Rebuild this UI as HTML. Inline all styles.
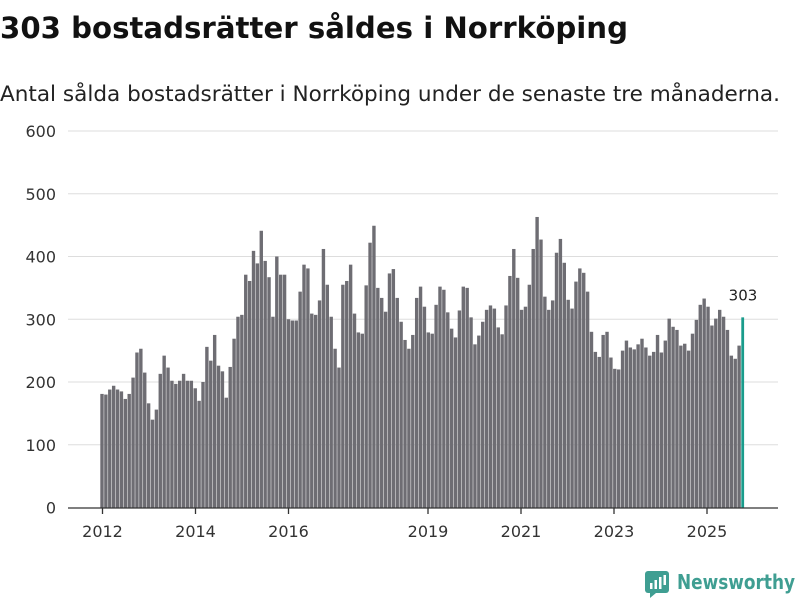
<!DOCTYPE html>
<html><head><meta charset="utf-8"><style>
body{margin:0;width:800px;height:600px;background:#fff;font-family:"Liberation Sans","DejaVu Sans",sans-serif;overflow:hidden}
</style></head><body>
<svg width="800" height="600" viewBox="0 0 800 600" xmlns="http://www.w3.org/2000/svg">
<text x="0" y="38" font-size="29" font-weight="bold" fill="#111" font-family="DejaVu Sans, sans-serif" textLength="628" lengthAdjust="spacingAndGlyphs">303 bostadsrätter såldes i Norrköping</text>
<text x="0" y="101" font-size="21" fill="#222" font-family="DejaVu Sans, sans-serif" textLength="780" lengthAdjust="spacingAndGlyphs">Antal sålda bostadsrätter i Norrköping under de senaste tre månaderna.</text>
<g id="grid"></g><g id="bars"></g><g id="xaxis"></g>
<g>
<rect x="645" y="571" width="24" height="22" rx="3" fill="#3f9e92"/>
<polygon points="650,593 656,593 650,598" fill="#3f9e92"/>
<rect x="650" y="583" width="2.5" height="6" fill="#fff"/><rect x="654.5" y="580" width="2.5" height="9" fill="#fff"/><rect x="659" y="577" width="2.5" height="12" fill="#fff"/><rect x="663.5" y="575" width="2.5" height="10" fill="#fff"/>
<text x="677" y="589" font-size="20" font-weight="bold" fill="#3f9e92" font-family="DejaVu Sans, sans-serif" textLength="118" lengthAdjust="spacingAndGlyphs">Newsworthy</text>
</g>
</svg>
<script>
const values=[181,180,188,194,188,185,173,181,207,247,253,215,166,140,156,213,242,223,202,197,202,213,202,202,190,170,200,256,234,275,226,217,175,224,269,304,307,371,361,409,389,441,
393,367,304,400,371,371,300,298,298,344,387,381,309,307,330,412,355,304,253,223,355,361,387,309,279,277,354,422,449,350,334,312,373,380,334,296,267,253,275,334,352,320,279,
277,323,352,347,311,285,271,314,352,350,303,260,274,296,315,322,317,287,276,322,369,412,366,315,320,355,412,463,427,336,315,330,406,428,390,331,317,360,381,374,344,280,248,
240,275,280,239,221,220,250,266,255,252,260,269,255,242,248,275,247,266,301,288,283,258,261,250,277,299,323,333,320,290,301,315,304,283,242,237,258,303];
const yTicks=[0,100,200,300,400,500,600];
const xTickYears=[2012,2014,2016,2019,2021,2023,2025];
const startYear=2012;
const NS="http://www.w3.org/2000/svg";
function y(v){return 507.5-v*0.6275;}
const step=(743-102)/(values.length-1);
function x(i){return 102+i*step;}
function xm(m){return 102.5+m*3.875;}
function mk(t,a,p){const e=document.createElementNS(NS,t);for(const k in a)e.setAttribute(k,a[k]);p.appendChild(e);return e;}
const grid=document.getElementById('grid');
yTicks.forEach(t=>{
 if(t>0){const l=mk('line',{x1:68,x2:778,y1:y(t),y2:y(t),stroke:'#dddddd','stroke-width':1},grid);
 
 }
 const tx=mk('text',{x:56,y:y(t)+6,'font-size':16,fill:'#333','text-anchor':'end','font-family':'DejaVu Sans, sans-serif'},grid);
 tx.textContent=t;
 
 
});
const bars=document.getElementById('bars');
values.forEach((v,i)=>{
 const last=i===values.length-1;
 const r=mk('rect',{x:x(i)-1.7,y:y(v),width:last?2.8:3.4,height:y(0)-y(v),fill:last?'#1a9c8c':'#6e6d73'},bars);
 
 
});
const li=values.length-1;
const lab=mk('text',{x:x(li),y:y(values[li])-17,'font-size':15,fill:'#222','text-anchor':'middle','font-family':'DejaVu Sans, sans-serif'},bars);
lab.textContent=values[li];


const xa=document.getElementById('xaxis');
const ax=mk('line',{x1:68,x2:778,y1:508,y2:508,stroke:'#333','stroke-width':1.3},xa);


xTickYears.forEach(yr=>{
 const m=(yr-startYear)*12;
 const tk=mk('line',{x1:xm(m),x2:xm(m),y1:508,y2:514,stroke:'#333','stroke-width':1.3},xa);
 
 
 const t=mk('text',{x:xm(m),y:537,'font-size':16,fill:'#333','text-anchor':'middle','font-family':'DejaVu Sans, sans-serif'},xa);
 t.textContent=yr;
 
 
});
</script>
</body></html>
